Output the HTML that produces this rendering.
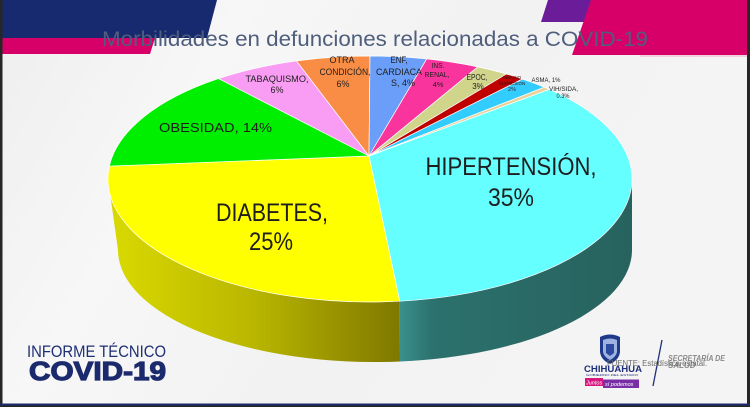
<!DOCTYPE html>
<html><head><meta charset="utf-8"><style>
html,body{margin:0;padding:0;background:#222;}
body{width:750px;height:407px;overflow:hidden;}
svg{display:block;}
text{font-family:"Liberation Sans",sans-serif;}
</style></head><body>
<svg width="750" height="407" viewBox="0 0 750 407" xmlns="http://www.w3.org/2000/svg">
<defs>
<linearGradient id="bg" x1="0" y1="0" x2="1" y2="0.3">
<stop offset="0" stop-color="#eeeeee"/><stop offset="0.3" stop-color="#f7f7f7"/><stop offset="0.6" stop-color="#f2f2f2"/><stop offset="1" stop-color="#f4f4f4"/>
</linearGradient>
<linearGradient id="ys" gradientUnits="userSpaceOnUse" x1="108" y1="0" x2="400" y2="0">
<stop offset="0" stop-color="#dada00"/><stop offset="0.5" stop-color="#b9b600"/><stop offset="1" stop-color="#7f7800"/>
</linearGradient>
<linearGradient id="cs" gradientUnits="userSpaceOnUse" x1="400" y1="0" x2="632" y2="0">
<stop offset="0" stop-color="#3a908d"/><stop offset="0.14" stop-color="#2c716d"/><stop offset="1" stop-color="#27625e"/>
</linearGradient>
</defs>
<rect x="0" y="0" width="750" height="407" fill="url(#bg)"/>
<rect x="0" y="0" width="2.5" height="407" fill="#262626"/>
<rect x="747" y="0" width="3" height="407" fill="#262626"/>
<rect x="0" y="403.5" width="750" height="2" fill="#1c2a6e"/>
<rect x="0" y="405.5" width="750" height="2" fill="#262626"/>
<polygon points="2.5,38 155,38 150,54 2.5,54" fill="#d60068"/>
<polygon points="2.5,0 217,0 207,38 2.5,38" fill="#17296f"/>
<polygon points="548,0 610,0 610,22 541,22" fill="#6b1d99"/>
<polygon points="591,0 747,0 747,55 572,55" fill="#d60068"/>
<line x1="640" y1="56" x2="747" y2="56" stroke="#eab0cb" stroke-width="1"/>
<text x="102" y="46" font-size="21" fill="#4f5e7c" textLength="546" lengthAdjust="spacingAndGlyphs">Morbilidades en defunciones relacionadas a COVID-19</text>
<path d="M108,179 A262,123 0 0 0 399.7,301.2 L400,361.5 A257,112 0 0 1 118,250 Z" fill="url(#ys)"/>
<path d="M399.7,301.2 A262,123 0 0 0 632,179 L632,250 A257,112 0 0 1 400,361.5 Z" fill="url(#cs)"/>
<g stroke="#ffffff" stroke-width="0.7" stroke-linejoin="round">
<path d="M369,156 L549.3,89.3 A262,123 0 0 1 399.7,301.2 Z" fill="#66ffff"/>
<path d="M369,156 L399.7,301.2 A262,123 0 0 1 109.4,166.1 Z" fill="#ffff00"/>
<path d="M369,156 L109.4,166.1 A262,123 0 0 1 218.6,78.6 Z" fill="#00ee00"/>
<path d="M369,156 L218.6,78.6 A262,123 0 0 1 296.5,60.9 Z" fill="#f99cf3"/>
<path d="M369,156 L296.5,60.9 A262,123 0 0 1 370,56 Z" fill="#f98d45"/>
<path d="M369,156 L370,56 A262,123 0 0 1 426.7,58.9 Z" fill="#6a9ef8"/>
<path d="M369,156 L426.7,58.9 A262,123 0 0 1 477.8,66.9 Z" fill="#f9359d"/>
<path d="M369,156 L477.8,66.9 A262,123 0 0 1 506.5,74 Z" fill="#d0d58b"/>
<path d="M369,156 L506.5,74 A262,123 0 0 1 522.5,79 Z" fill="#c00000"/>
<path d="M369,156 L522.5,79 A262,123 0 0 1 544.3,87.2 Z" fill="#33ccff"/>
<path d="M369,156 L544.3,87.2 A262,123 0 0 1 549.3,89.3 Z" fill="#e9d39c"/>
</g>
<g fill="#1e1e1e" text-anchor="middle">
<text x="511" y="175" font-size="25" textLength="171" lengthAdjust="spacingAndGlyphs">HIPERTENSIÓN,</text>
<text x="511" y="206" font-size="25" textLength="46" lengthAdjust="spacingAndGlyphs">35%</text>
<text x="272" y="221" font-size="25" textLength="112" lengthAdjust="spacingAndGlyphs">DIABETES,</text>
<text x="271" y="250" font-size="25" textLength="44" lengthAdjust="spacingAndGlyphs">25%</text>
<text x="215.5" y="132" font-size="13" textLength="113" lengthAdjust="spacingAndGlyphs">OBESIDAD, 14%</text>
<text x="277" y="82" font-size="9" textLength="63" lengthAdjust="spacingAndGlyphs">TABAQUISMO,</text>
<text x="277" y="93" font-size="9">6%</text>
<text x="342" y="63" font-size="9" textLength="25" lengthAdjust="spacingAndGlyphs">OTRA</text>
<text x="345" y="75" font-size="9" textLength="51" lengthAdjust="spacingAndGlyphs">CONDICIÓN,</text>
<text x="343" y="87" font-size="9">6%</text>
<text x="399" y="63" font-size="9" textLength="17" lengthAdjust="spacingAndGlyphs">ENF,</text>
<text x="399" y="75" font-size="9" textLength="46" lengthAdjust="spacingAndGlyphs">CARDIACA</text>
<text x="403" y="86" font-size="9" textLength="24" lengthAdjust="spacingAndGlyphs">S, 4%</text>
<text x="438" y="68" font-size="7.5" textLength="13" lengthAdjust="spacingAndGlyphs">INS.</text>
<text x="437" y="77" font-size="7.5" textLength="25" lengthAdjust="spacingAndGlyphs">RENAL,</text>
<text x="438" y="87" font-size="7.5">4%</text>
<text x="477" y="80" font-size="8" textLength="21" lengthAdjust="spacingAndGlyphs">EPOC,</text>
<text x="478" y="89" font-size="8">3%</text>
<text x="512" y="79" font-size="4.5" fill="#3a1010">INMUNO</text>
<text x="512" y="85" font-size="4.5" fill="#3a1010">SUPRESIÓN</text>
<text x="512" y="91" font-size="5.5" fill="#2a2a2a">2%</text>
<text x="546" y="82" font-size="6.5" textLength="29" lengthAdjust="spacingAndGlyphs">ASMA, 1%</text>
<text x="563.5" y="91" font-size="6.5" textLength="29" lengthAdjust="spacingAndGlyphs">VIH/SIDA,</text>
<text x="563" y="98" font-size="6.5" textLength="13" lengthAdjust="spacingAndGlyphs">0.3%</text>
</g>
<text x="27" y="357" font-size="16.5" fill="#1e2f73" textLength="139" lengthAdjust="spacingAndGlyphs">INFORME TÉCNICO</text>
<text x="29" y="380" font-size="26" font-weight="bold" fill="#1a2a6c" stroke="#1a2a6c" stroke-width="1.2" textLength="137" lengthAdjust="spacingAndGlyphs">COVID-19</text>
<path d="M600,337 Q610,332 620,337 L620,352 Q619,360 610,364 Q601,360 600,352 Z" fill="#1f3a8a"/>
<path d="M603,340 Q610,337 617,340 L617,352 Q616,357 610,360 Q604,357 603,352 Z" fill="#9fb3e0"/>
<path d="M606,344 L614,344 L614,353 L610,356 L606,353 Z" fill="#2b4aa0"/>
<text x="584" y="372" font-size="9.5" font-weight="bold" fill="#1f2f7a" textLength="58" lengthAdjust="spacingAndGlyphs">CHIHUAHUA</text>
<text x="586" y="376" font-size="3" fill="#1f2f7a" textLength="52" lengthAdjust="spacingAndGlyphs">GOBIERNO DEL ESTADO</text>
<rect x="585" y="378" width="18" height="8" fill="#d6157f"/>
<rect x="603" y="379.5" width="36" height="8.5" fill="#7a2ea6"/>
<text x="586" y="384.5" font-size="5.5" font-style="italic" fill="#ffffff">Juntos</text>
<text x="605" y="386" font-size="5.5" font-style="italic" fill="#ffffff">sí podemos</text>
<line x1="662" y1="340" x2="653" y2="386" stroke="#1f2f7a" stroke-width="1.3"/>
<text x="668" y="361" font-size="8" font-style="italic" font-weight="bold" fill="#8a8a8a" textLength="57" lengthAdjust="spacingAndGlyphs">SECRETARÍA DE</text>
<text x="668" y="368" font-size="8" font-style="italic" font-weight="bold" fill="#8a8a8a">SALUD</text>
<text x="607" y="366" font-size="8" fill="#6a6a6a" textLength="100" lengthAdjust="spacingAndGlyphs">FUENTE: Estadística estatal.</text>
</svg>
</body></html>
